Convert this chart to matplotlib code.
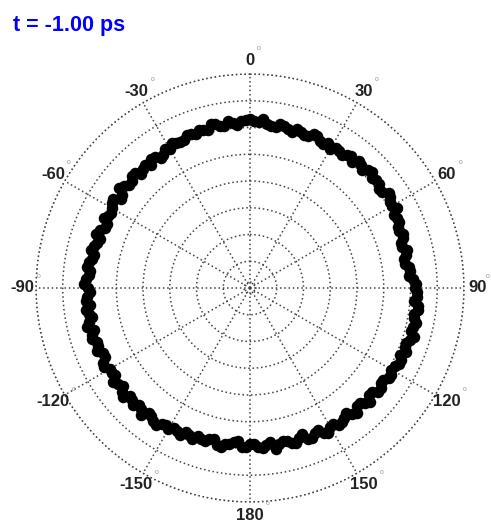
import numpy as np
import matplotlib
matplotlib.use("Agg")
import matplotlib.pyplot as plt

plt.rcParams['font.family'] = ['Liberation Sans', 'DejaVu Sans']

TITLE = "t = -1.00 ps"

# angles (deg): first set starts at -180, second set is shifted by half a step
angle_start = -180
angle_step = 3
angle_start_b = -178.5

# radius of each point
radius = [
    5.85, 5.95, 5.80, 5.90, 6.00, 5.85, 5.95, 6.05, 5.90, 6.00,
    6.10, 6.05, 6.15, 6.00, 6.10, 6.20, 6.05, 6.15, 6.10, 6.00,
    6.05, 6.15, 6.00, 6.10, 6.20, 6.05, 6.15, 6.10, 6.00, 6.10,
    6.05, 6.15, 6.00, 6.10, 5.95, 6.05, 5.90, 6.00, 5.85, 5.95,
    5.95, 6.10, 5.90, 6.05, 5.95, 6.10, 6.00, 5.90, 6.05, 5.95,
    6.00, 6.10, 6.05, 6.15, 6.20, 6.10, 6.25, 6.15, 6.20, 6.25,
    6.30, 6.20, 6.15, 6.10, 6.20, 6.05, 6.15, 6.10, 6.20, 6.05,
    6.00, 6.10, 6.15, 6.05, 6.20, 6.25, 6.15, 6.20, 6.10, 6.25,
    6.15, 6.05, 6.10, 5.95, 6.00, 5.90, 5.95, 5.85, 6.00, 6.10,
    6.15, 6.25, 6.30, 6.20, 6.35, 6.25, 6.30, 6.20, 6.15, 6.25,
    6.10, 6.20, 6.05, 6.15, 6.00, 6.10, 5.95, 6.05, 6.00, 6.10,
    6.00, 6.10, 5.95, 6.05, 5.90, 6.00, 5.85, 6.10, 5.90, 5.95,
]

radius_b = [
    5.95, 5.75, 5.90, 6.05, 5.80, 5.95, 5.85, 5.95, 6.10, 5.95,
    6.00, 6.20, 6.05, 6.25, 6.05, 6.10, 6.25, 6.00, 6.20, 6.05,
    6.20, 6.00, 6.20, 6.05, 6.15, 6.25, 6.00, 6.20, 6.15, 6.00,
    6.20, 6.05, 6.15, 6.00, 6.10, 5.95, 6.10, 5.85, 6.05, 5.90,
    6.05, 5.85, 6.15, 5.95, 6.10, 5.90, 6.05, 6.10, 5.90, 6.10,
    6.15, 6.05, 6.20, 6.10, 6.15, 6.30, 6.15, 6.30, 6.10, 6.30,
    6.25, 6.35, 6.10, 6.25, 6.10, 6.20, 6.05, 6.25, 6.10, 6.15,
    6.15, 6.05, 6.20, 6.25, 6.10, 6.30, 6.20, 6.10, 6.30, 6.15,
    6.25, 6.10, 6.00, 6.05, 5.90, 6.05, 5.85, 6.00, 5.95, 6.20,
    6.25, 6.15, 6.35, 6.25, 6.25, 6.40, 6.20, 6.30, 6.25, 6.15,
    6.20, 6.05, 6.15, 6.00, 6.20, 5.95, 6.15, 5.90, 6.10, 5.95,
    6.15, 5.90, 6.05, 5.80, 6.05, 5.90, 5.95, 5.80, 6.00, 5.85,
]

tick_angles = [0, 30, 60, 90, 120, 150, 180, -150, -120, -90, -60, -30]
tick_labels = ["0", "30", "60", "90", "120", "150", "180",
               "-150", "-120", "-90", "-60", "-30"]
ring_levels = [0.22, 1, 2, 3, 4, 5, 6, 7, 8]
r_max = 8

W, H = 491, 525
fig = plt.figure(figsize=(W / 100, H / 100), dpi=100)
ax = fig.add_axes([36 / W, 23 / H, 428 / W, 428 / H], projection="polar")
ax.set_theta_zero_location("N")
ax.set_theta_direction(-1)
ax.set_ylim(0, r_max)

grid_kw = dict(color="#444444", lw=1.1, ls=(0, (1, 1.8)))
ax.set_rgrids(ring_levels, labels=[""] * len(ring_levels))
ax.set_thetagrids(np.arange(0, 360, 30), labels=[""] * 12)
ax.grid(True, **grid_kw)
ax.spines["polar"].set_visible(False)
# outer ring
th_full = np.linspace(0, 2 * np.pi, 400)
ax.plot(th_full, np.full_like(th_full, r_max), **grid_kw, clip_on=False)

theta = np.deg2rad(angle_start + angle_step * np.arange(len(radius)))
theta_b = np.deg2rad(angle_start_b + angle_step * np.arange(len(radius_b)))
ax.plot(theta, radius, "o", color="black", markersize=8.3, markeredgewidth=0)
ax.plot(theta_b, radius_b, "o", color="black", markersize=8.3, markeredgewidth=0)

for a, lab in zip(tick_angles, tick_labels):
    t = np.deg2rad(a)
    ax.text(t, 8.5, lab, ha="center", va="center", fontsize=12,
            fontweight="bold", color="#222222", clip_on=False)
    digits = len(lab.replace("-", ""))
    half_w = (9.3 * digits + (5.5 if "-" in lab else 0)) / 2
    dx = half_w + (1 if a == 90 else 4)
    ax.annotate("o", xy=(t, 8.5), xytext=(dx * 0.72, 12 * 0.72),
                textcoords="offset points", ha="center", va="center",
                fontsize=5, color="#999999", annotation_clip=False)

fig.text(13 / W, 1 - 25 / H, TITLE, color="#0000ff", fontsize=15.5,
         fontweight="bold", ha="left", va="center")

fig.savefig("out.png", dpi=100)
